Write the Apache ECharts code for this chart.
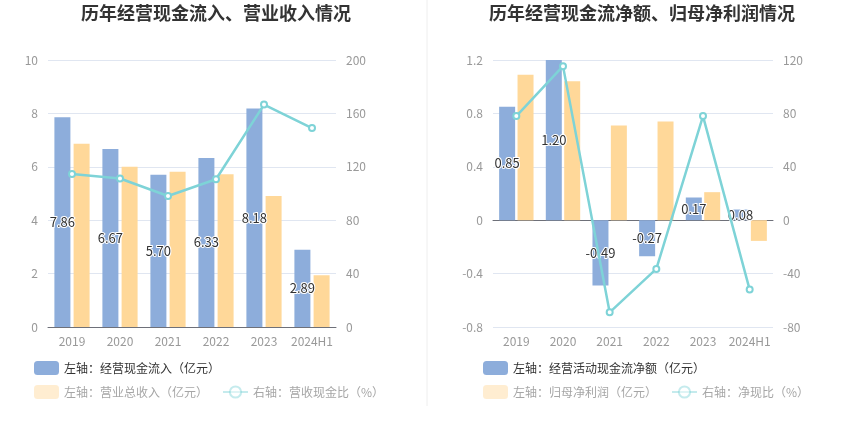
<!DOCTYPE html>
<html lang="zh">
<head>
    <meta charset="UTF-8">
    <title>历年经营现金流情况</title>
    <script src="https://cdn.jsdelivr.net/npm/echarts@6/dist/echarts.min.js"></script>
    <style>html,body{margin:0;padding:0;background:#fff;}</style>
</head>
<body>
    <div id="main" style="width: 850px;height:437px;"></div>
    <script>
        var chartDom = document.getElementById('main');
        var myChart = echarts.init(chartDom);

        // 数据
        const years = ['2019', '2020', '2021', '2022', '2023', '2024H1'];
        const cashIn = [7.86, 6.67, 5.70, 6.33, 8.18, 2.89];          // 经营现金流入（亿元）
        const revenue = [6.86, 6.00, 5.81, 5.72, 4.91, 1.94];         // 营业总收入（亿元）
        const cashRatio = [114.6, 111.2, 98.1, 110.7, 166.6, 149.0];  // 营收现金比（%）
        const netCash = [0.85, 1.20, -0.49, -0.27, 0.17, 0.08];       // 经营活动现金流净额（亿元）
        const netProfit = [1.09, 1.04, 0.71, 0.74, 0.21, -0.155];     // 归母净利润（亿元）
        const netRatio = [78.0, 115.4, -69.0, -36.5, 78.0, -52.0];    // 净现比（%）

        const font = 'Noto Sans CJK SC';
        const blue = '#8DADDB';
        const orange = '#FFD899';
        const teal = '#7ED3D7';
        const grey = '#999';

        const barLabel = {
            show: true,
            position: 'inside',
            color: '#333',
            fontSize: 13,
            fontFamily: font,
            textBorderColor: '#fff',
            textBorderWidth: 2,
            formatter: p => p.value.toFixed(2)
        };

        function valueAxis(grid, pos, min, max, interval, split) {
            return {
                type: 'value', gridIndex: grid, position: pos,
                min: min, max: max, interval: interval,
                axisLine: { show: false }, axisTick: { show: false },
                axisLabel: { color: grey, fontSize: 12, fontFamily: font, margin: 10 },
                splitLine: { show: split, lineStyle: { color: '#E0E6F1' } }
            };
        }

        function legend(left, top, items, faded) {
            return {
                left: left, top: top, orient: 'horizontal', padding: 0,
                itemWidth: 25, itemHeight: 14, itemGap: 14,
                data: items,
                textStyle: { color: faded ? '#a6a6a6' : '#333', fontSize: 12, fontFamily: font },
                itemStyle: faded ? { opacity: 0.45 } : {},
                lineStyle: faded ? { opacity: 0.45 } : {},
                selectedMode: false
            };
        }

        var option = {
            animation: false,
            title: [
                { text: '历年经营现金流入、营业收入情况', left: 212, top: 0, padding: 4, textAlign: 'center',
                  textStyle: { fontSize: 18, fontWeight: 'bold', color: '#333', fontFamily: font } },
                { text: '历年经营现金流净额、归母净利润情况', left: 638, top: 0, padding: 4, textAlign: 'center',
                  textStyle: { fontSize: 18, fontWeight: 'bold', color: '#333', fontFamily: font } }
            ],
            graphic: [{
                type: 'line', shape: { x1: 427, y1: 0, x2: 427, y2: 406 },
                style: { stroke: '#eee', lineWidth: 1 }
            }],
            legend: [
                legend(34, 361, ['左轴：经营现金流入（亿元）'], false),
                legend(34, 385, ['左轴：营业总收入（亿元）', '右轴：营收现金比（%）'], true),
                legend(483, 361, ['左轴：经营活动现金流净额（亿元）'], false),
                legend(483, 385, ['左轴：归母净利润（亿元）', '右轴：净现比（%）'], true)
            ],
            grid: [
                { left: 48, right: 514, top: 60, bottom: 110, containLabel: false },
                { left: 493, right: 77, top: 60, bottom: 110, containLabel: false }
            ],
            xAxis: [
                {
                    type: 'category', gridIndex: 0, data: years,
                    axisLine: { lineStyle: { color: '#6E7079' } },
                    axisTick: { alignWithLabel: true, lineStyle: { color: '#6E7079' } },
                    axisLabel: { color: grey, fontSize: 12, fontFamily: font, interval: 0 }
                },
                {
                    type: 'category', gridIndex: 1, data: years, position: 'bottom',
                    axisLine: { show: false, onZero: false }, axisTick: { show: false },
                    axisLabel: { color: grey, fontSize: 12, fontFamily: font, interval: 0 }
                },
                {
                    type: 'category', gridIndex: 1, data: years, position: 'top',
                    axisLine: { onZero: true, lineStyle: { color: '#6E7079' } },
                    axisTick: { alignWithLabel: true, inside: true, interval: 0, lineStyle: { color: '#6E7079' } },
                    axisLabel: { show: false }
                }
            ],
            yAxis: [
                valueAxis(0, 'left', 0, 10, 2, true),
                valueAxis(0, 'right', 0, 200, 40, false),
                valueAxis(1, 'left', -0.8, 1.2, 0.4, true),
                valueAxis(1, 'right', -80, 120, 40, false)
            ],
            series: [
                {
                    name: '左轴：经营现金流入（亿元）', type: 'bar', xAxisIndex: 0, yAxisIndex: 0,
                    data: cashIn, barWidth: 16, barGap: '20%',
                    itemStyle: { color: blue }, label: barLabel, z: 2
                },
                {
                    name: '左轴：营业总收入（亿元）', type: 'bar', xAxisIndex: 0, yAxisIndex: 0,
                    data: revenue, barWidth: 16, barGap: '20%',
                    itemStyle: { color: orange }
                },
                {
                    name: '右轴：营收现金比（%）', type: 'line', xAxisIndex: 0, yAxisIndex: 1,
                    data: cashRatio, symbol: 'emptyCircle', symbolSize: 6,
                    itemStyle: { color: teal }, lineStyle: { width: 2.5, color: teal }, z: 3
                },
                {
                    name: '左轴：经营活动现金流净额（亿元）', type: 'bar', xAxisIndex: 1, yAxisIndex: 2,
                    data: netCash, barWidth: 16, barGap: '15%',
                    itemStyle: { color: blue }, label: barLabel, z: 2
                },
                {
                    name: '左轴：归母净利润（亿元）', type: 'bar', xAxisIndex: 1, yAxisIndex: 2,
                    data: netProfit, barWidth: 16, barGap: '15%',
                    itemStyle: { color: orange }
                },
                {
                    name: '右轴：净现比（%）', type: 'line', xAxisIndex: 1, yAxisIndex: 3,
                    data: netRatio, symbol: 'emptyCircle', symbolSize: 6,
                    itemStyle: { color: teal }, lineStyle: { width: 2.5, color: teal }, z: 3
                }
            ]
        };

        myChart.setOption(option);
    </script>
</body>
</html>
